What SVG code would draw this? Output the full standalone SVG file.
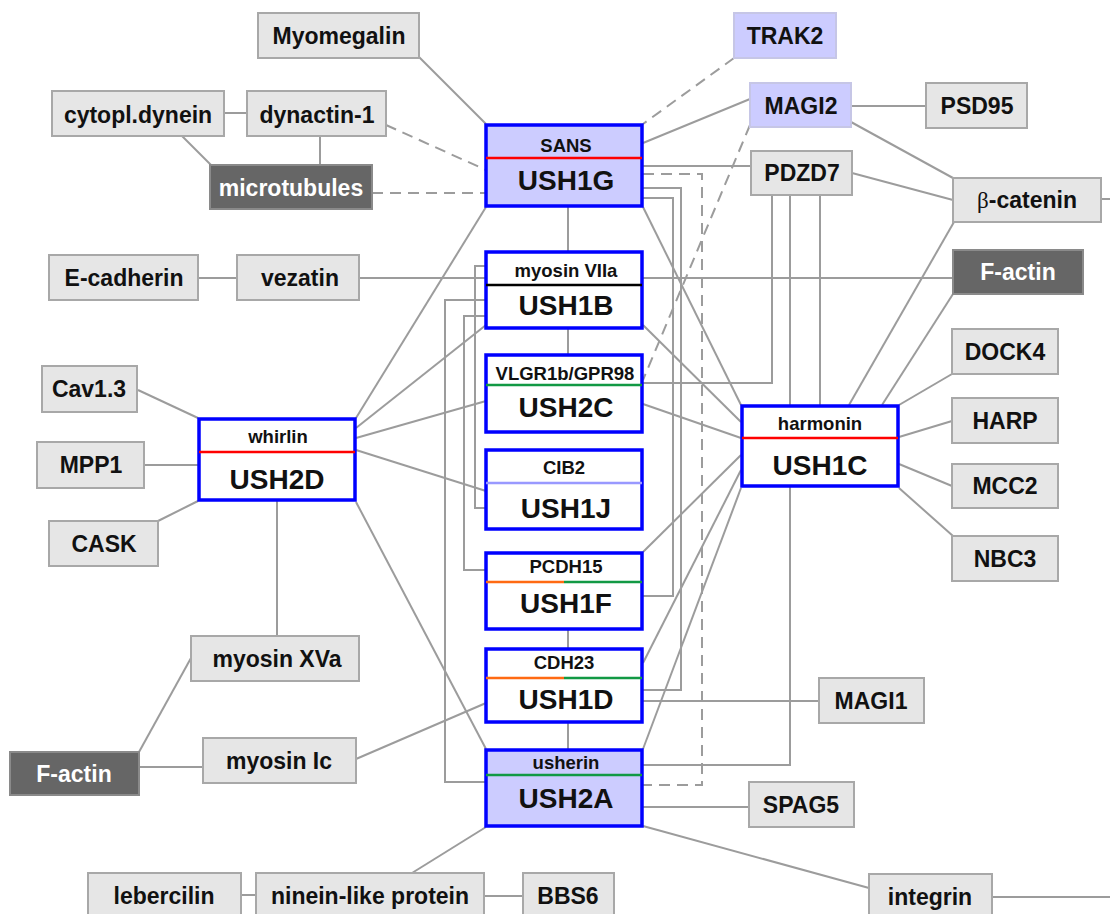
<svg xmlns="http://www.w3.org/2000/svg" width="1110" height="914" viewBox="0 0 1110 914">
<style>
.conn path{fill:none;stroke:#9c9c9c;stroke-width:2}
.conn .dash{stroke-dasharray:11 7}
.g rect{fill:#e6e6e6;stroke:#a8a8a8;stroke-width:2}
.dk rect{fill:#666666;stroke:#8a8a8a;stroke-width:2}
.lv rect{fill:#ccccff;stroke:#c6c6e6;stroke-width:2}
.c rect{fill:#ffffff;stroke:#0000ff;stroke-width:3.5}
.c.f rect{fill:#ccccff}
text{font-family:"Liberation Sans",Arial,sans-serif;font-weight:bold;text-anchor:middle;fill:#111}
.lb{font-size:23px}
.dk text{fill:#ffffff}
.sm{font-size:18.5px}
.big{font-size:28px}
.div{stroke-width:2.5;fill:none}
</style>
<g class="conn" id="connectors">
<path d="M419,57 L486,124"/>
<path d="M224,113 L247,113"/>
<path d="M182,136 L211,165"/>
<path d="M320,136 L320,165"/>
<path d="M750,99 L643,143"/>
<path d="M851,106 L926,106"/>
<path d="M851,122 L953,178"/>
<path d="M852,173 L953,200"/>
<path d="M1101,199 L1110,199"/>
<path d="M954,222 L849,405"/>
<path d="M953,294 L882,405"/>
<path d="M952,374 L899,405"/>
<path d="M952,421 L899,437"/>
<path d="M952,486 L899,464"/>
<path d="M953,536 L899,488"/>
<path d="M820,195 L820,405"/>
<path d="M790,195 L790,765 L643,765"/>
<path d="M772,195 L772,383 L643,383"/>
<path d="M643,166 L751,166"/>
<path d="M643,188 L681,188 L681,690 L643,690"/>
<path d="M643,198 L673,198 L673,596 L643,596"/>
<path d="M643,207 L741,405"/>
<path d="M568,207 L568,252"/>
<path d="M486,207 L356,418"/>
<path d="M643,325 L741,422"/>
<path d="M643,404 L741,438"/>
<path d="M643,552 L741,455"/>
<path d="M643,663 L741,470"/>
<path d="M643,749 L741,488"/>
<path d="M356,428 L486,325"/>
<path d="M356,438 L486,401"/>
<path d="M356,450 L486,491"/>
<path d="M356,502 L486,749"/>
<path d="M277,501 L277,636"/>
<path d="M138,390 L198,418"/>
<path d="M144,465 L198,465"/>
<path d="M158,521 L198,501"/>
<path d="M198,278 L237,278"/>
<path d="M359,278 L953,278"/>
<path d="M191,658 L139,752"/>
<path d="M139,767 L203,767"/>
<path d="M356,759 L486,703"/>
<path d="M486,827 L412,873"/>
<path d="M241,895 L256,895"/>
<path d="M484,896 L523,896"/>
<path d="M643,807 L749,807"/>
<path d="M643,826 L869,888"/>
<path d="M992,897 L1110,897"/>
<path d="M643,701 L819,701"/>
<path d="M486,266 L475,266 L475,508 L486,508"/>
<path d="M486,316 L464,316 L464,570 L486,570"/>
<path d="M486,300 L445,300 L445,782 L486,782"/>
<path d="M568,329 L568,354"/>
<path d="M568,630 L568,648"/>
<path d="M568,723 L568,749"/>
<path class="dash" d="M386,125 L486,170"/>
<path class="dash" d="M372,193 L486,193"/>
<path class="dash" d="M734,58 L643,124"/>
<path class="dash" d="M750,125 L643,380"/>
<path class="dash" d="M643,174 L702,174 L702,785 L643,785"/>
</g>
<g id="n-myomegalin" class="g"><rect x="258" y="13" width="161" height="45"/><text class="lb" x="339" y="44">Myomegalin</text></g>
<g id="n-cytodynein" class="g"><rect x="52" y="91" width="172" height="45"/><text class="lb" x="138" y="123">cytopl.dynein</text></g>
<g id="n-dynactin" class="g"><rect x="247" y="91" width="139" height="45"/><text class="lb" x="317" y="123">dynactin-1</text></g>
<g id="n-microtubules" class="dk"><rect x="210" y="165" width="162" height="44"/><text class="lb" x="291" y="196">microtubules</text></g>
<g id="n-trak2" class="lv"><rect x="734" y="13" width="102" height="45"/><text class="lb" x="785" y="44">TRAK2</text></g>
<g id="n-magi2" class="lv"><rect x="750" y="83" width="101" height="44"/><text class="lb" x="801" y="114">MAGI2</text></g>
<g id="n-psd95" class="g"><rect x="926" y="83" width="101" height="45"/><text class="lb" x="977" y="114">PSD95</text></g>
<g id="n-pdzd7" class="g"><rect x="751" y="151" width="101" height="44"/><text class="lb" x="802" y="181">PDZD7</text></g>
<g id="n-bcatenin" class="g"><rect x="953" y="178" width="148" height="44"/><text class="lb" x="1027" y="208"><tspan style="font-family:'Liberation Serif',serif;font-weight:normal">β</tspan>-catenin</text></g>
<g id="n-ecadherin" class="g"><rect x="49" y="255" width="149" height="45"/><text class="lb" x="124" y="286">E-cadherin</text></g>
<g id="n-vezatin" class="g"><rect x="237" y="255" width="122" height="45"/><text class="lb" x="300" y="286">vezatin</text></g>
<g id="n-factin-r" class="dk"><rect x="953" y="250" width="130" height="44"/><text class="lb" x="1018" y="280">F-actin</text></g>
<g id="n-cav13" class="g"><rect x="42" y="366" width="95" height="46"/><text class="lb" x="89" y="397">Cav1.3</text></g>
<g id="n-mpp1" class="g"><rect x="37" y="442" width="107" height="46"/><text class="lb" x="91" y="473">MPP1</text></g>
<g id="n-cask" class="g"><rect x="49" y="521" width="109" height="45"/><text class="lb" x="104" y="552">CASK</text></g>
<g id="n-dock4" class="g"><rect x="952" y="329" width="106" height="45"/><text class="lb" x="1005" y="360">DOCK4</text></g>
<g id="n-harp" class="g"><rect x="952" y="398" width="106" height="45"/><text class="lb" x="1005" y="429">HARP</text></g>
<g id="n-mcc2" class="g"><rect x="952" y="464" width="106" height="44"/><text class="lb" x="1005" y="494">MCC2</text></g>
<g id="n-nbc3" class="g"><rect x="952" y="536" width="106" height="45"/><text class="lb" x="1005" y="567">NBC3</text></g>
<g id="n-myosinxva" class="g"><rect x="191" y="636" width="168" height="45"/><text class="lb" x="277" y="667">myosin XVa</text></g>
<g id="n-factin-l" class="dk"><rect x="10" y="752" width="129" height="43"/><text class="lb" x="74" y="782">F-actin</text></g>
<g id="n-myosinic" class="g"><rect x="203" y="738" width="153" height="45"/><text class="lb" x="279" y="769">myosin Ic</text></g>
<g id="n-magi1" class="g"><rect x="819" y="678" width="105" height="45"/><text class="lb" x="871" y="709">MAGI1</text></g>
<g id="n-spag5" class="g"><rect x="749" y="782" width="105" height="45"/><text class="lb" x="801" y="813">SPAG5</text></g>
<g id="n-lebercilin" class="g"><rect x="88" y="873" width="153" height="45"/><text class="lb" x="164" y="904">lebercilin</text></g>
<g id="n-ninein" class="g"><rect x="256" y="873" width="228" height="45"/><text class="lb" x="370" y="904">ninein-like protein</text></g>
<g id="n-bbs6" class="g"><rect x="523" y="873" width="91" height="45"/><text class="lb" x="568" y="904">BBS6</text></g>
<g id="n-integrin" class="g"><rect x="869" y="874" width="123" height="45"/><text class="lb" x="930" y="905">integrin</text></g>
<g id="n-ush1g" class="c f"><rect x="486" y="125" width="156" height="81"/><path class="div" d="M486,158 H642" stroke="#ff0000"/><text class="sm" x="566" y="152">SANS</text><text class="big" x="566" y="190">USH1G</text></g>
<g id="n-ush1b" class="c"><rect x="486" y="252" width="156" height="76"/><path class="div" d="M486,285 H642" stroke="#000000"/><text class="sm" x="566" y="277">myosin VIIa</text><text class="big" x="566" y="315">USH1B</text></g>
<g id="n-ush2c" class="c"><rect x="486" y="355" width="156" height="77"/><path class="div" d="M486,385 H642" stroke="#119944"/><text class="sm" x="565" y="380">VLGR1b/GPR98</text><text class="big" x="566" y="417">USH2C</text></g>
<g id="n-ush1j" class="c"><rect x="486" y="450" width="156" height="79"/><path class="div" d="M486,483 H642" stroke="#9999ff"/><text class="sm" x="564" y="474">CIB2</text><text class="big" x="566" y="518">USH1J</text></g>
<g id="n-ush1f" class="c"><rect x="486" y="553" width="156" height="76"/><path class="div" d="M486,582 H564" stroke="#ff6a13"/><path class="div" d="M564,582 H642" stroke="#119944"/><text class="sm" x="566" y="573">PCDH15</text><text class="big" x="566" y="613">USH1F</text></g>
<g id="n-ush1d" class="c"><rect x="486" y="649" width="156" height="73"/><path class="div" d="M486,678 H564" stroke="#ff6a13"/><path class="div" d="M564,678 H642" stroke="#119944"/><text class="sm" x="564" y="669">CDH23</text><text class="big" x="566" y="709">USH1D</text></g>
<g id="n-ush2a" class="c f"><rect x="486" y="750" width="156" height="76"/><path class="div" d="M486,775 H642" stroke="#119944"/><text class="sm" x="566" y="769">usherin</text><text class="big" x="566" y="808">USH2A</text></g>
<g id="n-ush2d" class="c"><rect x="199" y="419" width="156" height="81"/><path class="div" d="M199,452 H355" stroke="#ff0000"/><text class="sm" x="278" y="443">whirlin</text><text class="big" x="277" y="489">USH2D</text></g>
<g id="n-ush1c" class="c"><rect x="742" y="406" width="156" height="80"/><path class="div" d="M742,438 H898" stroke="#ff0000"/><text class="sm" x="820" y="430">harmonin</text><text class="big" x="820" y="475">USH1C</text></g>
</svg>
